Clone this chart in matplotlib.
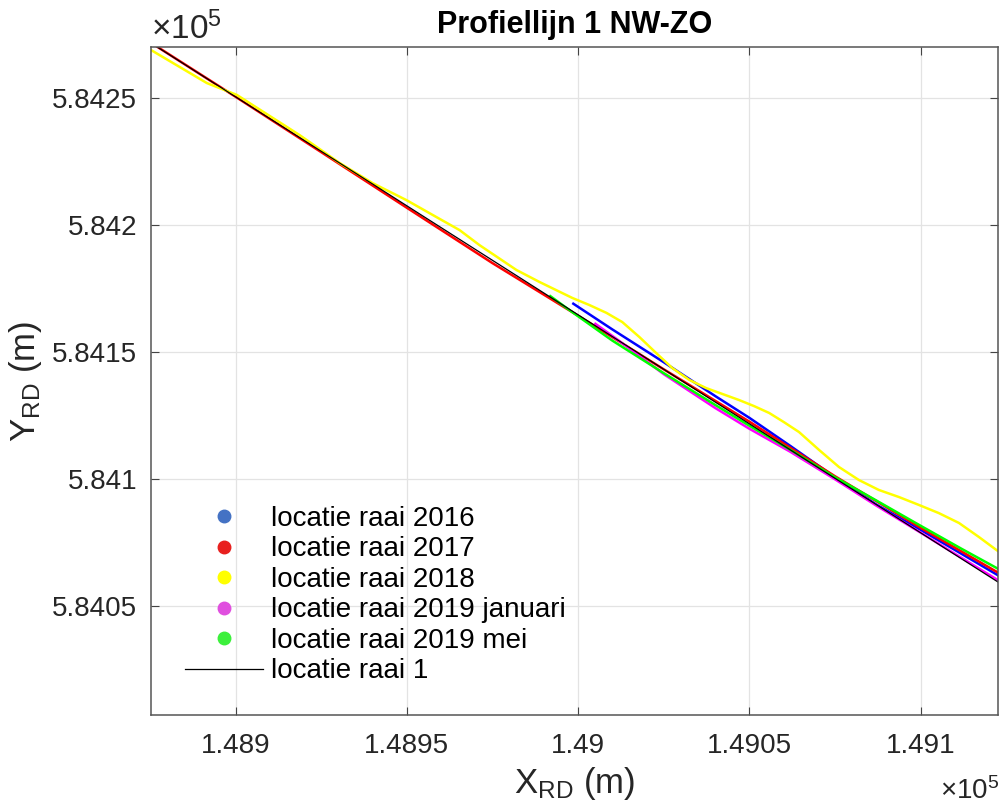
import numpy as np
import matplotlib
matplotlib.use('Agg')
import matplotlib.pyplot as plt
from matplotlib.lines import Line2D
from matplotlib.ticker import FuncFormatter

plt.rcParams['font.family'] = ['Liberation Sans', 'DejaVu Sans']
plt.rcParams['mathtext.fontset'] = 'custom'
plt.rcParams['mathtext.rm'] = 'Liberation Sans'
plt.rcParams['mathtext.it'] = 'Liberation Sans'

# RD coordinates (m)
x_2016 = [148998.3, 149010, 149025, 149040, 149050, 149062, 149075, 149087, 149100, 149112, 149125]
y_2016 = [584169.3, 584158.9, 584146.0, 584132.7, 584124.1, 584113.0, 584100.7, 584090.0, 584080.0, 584070.5, 584060.2]

x_2017 = [148860, 148875, 148900, 148925, 148950, 148975, 149000, 149025, 149050, 149075, 149100, 149125]
y_2017 = [584284.8, 584272.0, 584250.5, 584228.7, 584206.8, 584185.0, 584164.3, 584143.2, 584122.6, 584101.1, 584080.8, 584061.3]

x_2018 = [148868.0, 148875.3, 148891.6, 148900.4, 148918.7, 148930.4, 148940.0, 148949.9, 148959.6, 148965.4,
          148971.2, 148982.0, 148988.7, 148998.3, 149003.3, 149008.3, 149012.9, 149017.9, 149022.8, 149027.5,
          149032.5, 149037.4, 149047.0, 149051.4, 149055.8, 149060.1, 149064.5, 149070.4, 149076.2, 149082.0,
          149087.8, 149093.7, 149099.5, 149105.3, 149111.2, 149117.0, 149122.2, 149126.0]
y_2018 = [584272.0, 584268.9, 584255.9, 584251.2, 584235.4, 584224.4, 584216.5, 584209.8, 584202.4, 584198.0,
          584192.1, 584182.3, 584177.6, 584171.3, 584168.5, 584165.4, 584161.8, 584155.9, 584149.6, 584143.7,
          584139.0, 584135.8, 584131.1, 584128.7, 584126.0, 584122.4, 584118.5, 584111.4, 584104.7, 584099.6,
          584095.7, 584092.9, 584089.8, 584086.6, 584082.7, 584077.2, 584072.0, 584068.5]

x_2019jan = [149004.75, 149012, 149025, 149040, 149050, 149062, 149075, 149087, 149100, 149112, 149125]
y_2019jan = [584161.4, 584154.4, 584141.3, 584128.0, 584119.8, 584110.7, 584099.9, 584089.6, 584078.9, 584068.9, 584058.2]

x_2019mei = [148991.6, 148998, 149010, 149025, 149040, 149050, 149062, 149075, 149087, 149100, 149112, 149125]
y_2019mei = [584172.3, 584166.0, 584154.5, 584141.7, 584129.2, 584121.0, 584111.5, 584100.7, 584091.6, 584081.6, 584072.5, 584062.9]

x_raai1 = [148860, 149130]
y_raai1 = [584284.8, 584053.1]

labels = ['locatie raai 2016', 'locatie raai 2017', 'locatie raai 2018',
          'locatie raai 2019 januari', 'locatie raai 2019 mei', 'locatie raai 1']
line_colors = ['#0000ff', '#ff0000', '#ffff00', '#ff00ff', '#00ff00']
dot_colors = ['#4472c4', '#e8201e', '#ffff00', '#e04fdf', '#3cf03c']

fig = plt.figure(figsize=(10, 8.1), dpi=100)
ax = fig.add_axes([0.151, 0.1173, 0.847, 0.8247])

series = [(x_2016, y_2016), (x_2017, y_2017), (x_2018, y_2018),
          (x_2019jan, y_2019jan), (x_2019mei, y_2019mei)]
for (xs, ys), c in zip(series, line_colors):
    ax.plot(xs, ys, color=c, lw=1.8, solid_capstyle='butt', solid_joinstyle='round')
ax.plot(x_raai1, y_raai1, color='black', lw=0.9)

ax.set_xlim(148875.3, 149122.6)
ax.set_ylim(584007.1, 584270.1)
ax.set_xticks(np.arange(148900, 149101, 50))
ax.set_yticks(np.arange(584050, 584251, 50))
fmt = FuncFormatter(lambda v, p: f'{v / 1e5:g}')
ax.xaxis.set_major_formatter(fmt)
ax.yaxis.set_major_formatter(fmt)
ax.tick_params(direction='in', top=True, right=True, length=6, width=0.8,
               color='#444444', labelsize=20, labelcolor='#262626')
ax.tick_params(axis='y', pad=10)
ax.tick_params(axis='x', pad=13)
ax.grid(True, color='#e3e3e3', lw=0.9)
ax.set_axisbelow(True)
for s in ax.spines.values():
    s.set_color('#555555')
    s.set_linewidth(1.1)

ax.set_title('Profiellijn 1 NW-ZO', fontsize=22, fontweight='bold', pad=10)
ax.set_xlabel(r'X$_{\mathrm{RD}}$ (m)', fontsize=25, color='#262626', labelpad=4)
ax.set_ylabel(r'Y$_{\mathrm{RD}}$ (m)', fontsize=25, color='#262626', labelpad=6)

# MATLAB style exponent labels
fig.text(0.151, 1 - 39 / 810, r'×10$^{5}$', fontsize=24, color='#262626', ha='left', va='baseline')
fig.text(0.940, 1 - 799 / 810, r'×10$^{5}$', fontsize=20, color='#262626', ha='left', va='baseline')

handles = [Line2D([], [], ls='none', marker='o', ms=9, mfc=c, mec=c) for c in dot_colors]
handles.append(Line2D([], [], color='black', lw=0.9))
ax.legend(handles, labels, loc='upper left', bbox_to_anchor=(0.185, 1 - 506 / 810),
          bbox_transform=fig.transFigure, frameon=False, fontsize=20, handlelength=2.8,
          handletextpad=0.3, labelspacing=0.16, borderpad=0, borderaxespad=0)

fig.savefig('out.png', dpi=100)
